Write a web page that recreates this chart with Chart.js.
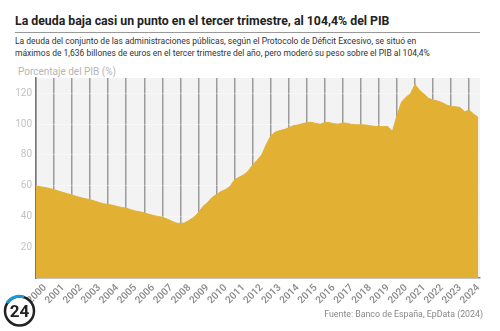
<!DOCTYPE html>
<html>
<head>
<meta charset="utf-8">
<script src="https://cdn.jsdelivr.net/npm/chart.js@4.4.1/dist/chart.umd.min.js"></script>
<style>
  body { margin: 0; background: #fff; font-family: Roboto, "Noto Sans", sans-serif; }
  #wrap { position: relative; width: 500px; height: 331px; overflow: hidden; }
  .titulo { position: absolute; left: 15px; top: 14px; font-size: 12.3px; font-weight: bold; color: #222; white-space: nowrap; }
  .raya { position: absolute; left: 15px; top: 32px; width: 465px; height: 1px; background: #999; }
  .sub { position: absolute; left: 15px; top: 36px; font-size: 8.5px; line-height: 11.5px; color: #333; white-space: nowrap; }
  .eje { position: absolute; left: 18px; top: 66px; font-size: 10px; color: #b5b5b5; white-space: nowrap; }
  .fuente { position: absolute; right: 17px; top: 309px; font-size: 8.8px; color: #888; white-space: nowrap; }
  #graf { position: absolute; left: 0; top: 62px; width: 500px; height: 269px; }
  .logo { position: absolute; left: 2px; top: 294px; }
</style>
</head>
<body>
<div id="wrap">
  <div class="titulo">La deuda baja casi un punto en el tercer trimestre, al 104,4% del PIB</div>
  <div class="raya"></div>
  <div class="sub">La deuda del conjunto de las administraciones públicas, según el Protocolo de Déficit Excesivo, se situó en<br>máximos de 1,636 billones de euros en el tercer trimestre del año, pero moderó su peso sobre el PIB al 104,4%</div>
  <div class="eje">Porcentaje del PIB (%)</div>
  <div id="graf"><canvas id="deudaChart"></canvas></div>
  <svg class="logo" width="36" height="35" viewBox="0 0 36 35">
    <circle cx="17.5" cy="17" r="14.5" fill="none" stroke="#222" stroke-width="2.5"/>
    <path d="M 5 9 A 14.5 14.5 0 0 1 22 3.2" fill="none" stroke="#1b9ad8" stroke-width="3"/>
    <text x="17.5" y="23" text-anchor="middle" font-family="Roboto, sans-serif" font-weight="bold" font-size="17" fill="#222">24</text>
  </svg>
  <div class="fuente">Fuente: Banco de España, EpData (2024)</div>
</div>
<script>
// años (etiquetas del eje x)
const years = [2000, 2001, 2002, 2003, 2004, 2005, 2006, 2007, 2008, 2009, 2010, 2011,
  2012, 2013, 2014, 2015, 2016, 2017, 2018, 2019, 2020, 2021, 2022, 2023, 2024];

// deuda pública, % del PIB, trimestral (2000 T1 - 2024 T3)
const deuda = [
  60.0, 59.3, 58.8, 58.2,   // 2000
  57.4, 56.5, 55.6, 54.8,   // 2001
  53.9, 53.0, 52.2, 51.5,   // 2002
  50.9, 50.0, 49.0, 48.2,   // 2003
  47.8, 47.3, 46.5, 45.8,   // 2004
  45.4, 44.4, 43.6, 43.0,   // 2005
  42.4, 41.4, 40.7, 40.0,   // 2006
  39.5, 38.4, 37.0, 35.8,   // 2007
  35.3, 35.9, 37.6, 39.5,   // 2008
  42.5, 46.5, 49.0, 52.3,   // 2009
  54.3, 56.2, 57.5, 59.5,   // 2010
  63.8, 65.5, 67.0, 69.3,   // 2011
  73.5, 76.5, 80.0, 86.5,   // 2012
  92.2, 94.8, 95.8, 96.5,   // 2013
  97.6, 99.0, 99.5, 100.3,  // 2014
  100.9, 101.2, 100.5, 99.9, // 2015
  101.1, 101.0, 100.3, 100.0, // 2016
  100.9, 100.5, 99.8, 99.6, // 2017
  99.6, 99.5, 99.0, 98.6,   // 2018
  98.3, 98.5, 98.3, 95.4,   // 2019
  105.5, 114.3, 117.5, 119.8, // 2020
  125.8, 122.0, 119.5, 116.8, // 2021
  115.7, 115.0, 114.0, 112.5, // 2022
  111.4, 111.3, 110.8, 108.0, // 2023
  109.2, 106.5, 104.4       // 2024
];

const yTicks = [20, 40, 60, 80, 100, 120];

const puntos = deuda.map((v, i) => ({ x: years[0] + i / 4, y: v }));

const fondo = {
  id: "fondo",
  beforeDraw(chart) {
    const a = chart.chartArea;
    const c = chart.ctx;
    c.save();
    c.fillStyle = "#f3f3f3";
    c.fillRect(a.left, a.top, a.right - a.left, a.bottom - a.top);
    c.restore();
  },
};

const ctx = document.getElementById("deudaChart").getContext("2d");
let myChart = new Chart(ctx, {
  type: "line",
  data: {
    datasets: [
      {
        data: puntos,
        fill: "origin",
        backgroundColor: "#e2b134",
        borderColor: "#e2b134",
        borderWidth: 1,
        pointRadius: 0,
        tension: 0,
      },
    ],
  },
  options: {
    responsive: true,
    maintainAspectRatio: false,
    animation: false,
    layout: { padding: { top: 16, right: 20, left: 0, bottom: 0 } },
    plugins: { legend: { display: false }, tooltip: { enabled: false } },
    scales: {
      x: {
        type: "linear",
        min: 2000,
        max: 2024.6,
        z: 1,
        afterFit: (s) => { s.height = 53; },
        grid: { color: "rgba(0,0,0,0.36)", lineWidth: 1.5, drawTicks: false },
        border: { color: "#888", width: 1.5 },
        ticks: {
          stepSize: 1,
          includeBounds: false,
          autoSkip: false,
          maxRotation: 45,
          minRotation: 45,
          labelOffset: 9,
          padding: 4,
          color: "#888",
          font: { family: "Roboto", size: 10, weight: "500" },
          callback: (v) => (years.includes(v) ? String(v) : ""),
        },
      },
      y: {
        min: 0,
        max: 130,
        z: 1,
        afterFit: (s) => { s.width = 36; },
        grid: { color: "rgba(255,255,255,0.35)", lineWidth: 1, drawTicks: false },
        border: { color: "#777", width: 1.5 },
        ticks: {
          stepSize: 20,
          includeBounds: false,
          padding: 4,
          color: "#c2c2c2",
          font: { family: "Roboto", size: 10 },
          callback: (v) => (yTicks.includes(v) ? String(v) : ""),
        },
      },
    },
  },
  plugins: [fondo],
});
</script>
</body>
</html>
